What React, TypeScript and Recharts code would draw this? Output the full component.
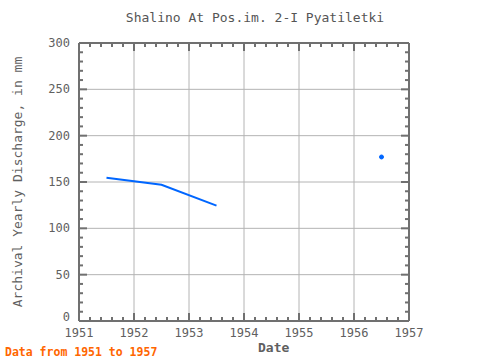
import { ComposedChart, Line, XAxis, YAxis, ReferenceLine } from "recharts";

const years = [1951.5, 1952.5, 1953.5];
const discharge = [154.5, 147, 124.5];
const loneYears = [1956.5];
const loneDischarge = [177];

const majorYears = [1951, 1952, 1953, 1954, 1955, 1956, 1957];
const majorValues = [0, 50, 100, 150, 200, 250, 300];

const minorYears: number[] = [];
for (let k = 0; k <= 30; k++) minorYears.push(Math.round((1951 + k * 0.2) * 10) / 10);
const minorValues: number[] = [];
for (let v = 0; v <= 300; v += 10) minorValues.push(v);

const lineData = years.map((year, i) => ({ year, value: discharge[i] }));
const loneData = loneYears.map((year, i) => ({ year, value: loneDischarge[i] }));

const FRAME = "#707070";
const GRID = "#b4b4b4";
const TEXT = "#606060";
const BLUE = "#0066ff";
const FONT = "'DejaVu Sans Mono', monospace";

const isMajorYear = (v: number) => majorYears.includes(v);
const isMajorValue = (v: number) => majorValues.includes(v);

const BottomTick = ({ x, y, payload }: any) => {
  const major = isMajorYear(payload.value);
  return (
    <g>
      <line x1={x} x2={x} y1={y} y2={y - (major ? 8 : 4)} stroke={FRAME} strokeWidth={2} />
      {major && (
        <text x={x} y={y + 16} textAnchor="middle" fill={TEXT} fontSize={12} fontFamily={FONT}>
          {payload.value}
        </text>
      )}
    </g>
  );
};

const TopTick = ({ x, y, payload }: any) => {
  const major = isMajorYear(payload.value);
  return <line x1={x} x2={x} y1={y} y2={y + (major ? 8 : 4)} stroke={FRAME} strokeWidth={2} />;
};

const LeftTick = ({ x, y, payload }: any) => {
  const major = isMajorValue(payload.value);
  // the zero label sits a little higher so it clears the year labels
  const dy = payload.value === 0 ? 0 : 4;
  return (
    <g>
      <line x1={x} x2={x + (major ? 8 : 4)} y1={y} y2={y} stroke={FRAME} strokeWidth={2} />
      {major && (
        <text x={x - 9} y={y + dy} textAnchor="end" fill={TEXT} fontSize={12} fontFamily={FONT}>
          {payload.value}
        </text>
      )}
    </g>
  );
};

const RightTick = ({ x, y, payload }: any) => {
  const major = isMajorValue(payload.value);
  return <line x1={x} x2={x - (major ? 8 : 4)} y1={y} y2={y} stroke={FRAME} strokeWidth={2} />;
};

export default function App() {
  return (
    <div style={{ position: "absolute", left: 0, top: 0, width: 480, height: 360, background: "#fff" }}>
      <div
        style={{
          position: "absolute",
          left: 0,
          width: 510,
          top: 10,
          textAlign: "center",
          fontFamily: FONT,
          fontSize: 13,
          color: "#555",
        }}
      >
        Shalino At Pos.im. 2-I Pyatiletki
      </div>
      <div
        style={{
          position: "absolute",
          left: 17,
          top: 182,
          transform: "translate(-50%, -50%) rotate(-90deg)",
          whiteSpace: "nowrap",
          fontFamily: FONT,
          fontSize: 13,
          color: TEXT,
        }}
      >
        Archival Yearly Discharge, in mm
      </div>
      <div
        style={{
          position: "absolute",
          left: 258,
          top: 340,
          fontFamily: FONT,
          fontSize: 13,
          fontWeight: "bold",
          color: TEXT,
        }}
      >
        Date
      </div>
      <div
        style={{
          position: "absolute",
          left: 5,
          top: 345,
          fontFamily: FONT,
          fontSize: 11.5,
          fontWeight: "bold",
          color: "#ff6600",
        }}
      >
        Data from 1951 to 1957
      </div>
      <ComposedChart
        width={480}
        height={360}
        margin={{ top: 42, right: 70, bottom: 38, left: 78 }}
        style={{ position: "absolute", left: 0, top: 0 }}
      >
        <XAxis
          dataKey="year"
          type="number"
          domain={[1951, 1957]}
          ticks={minorYears}
          interval={0}
          height={1}
          tickSize={0}
          tickMargin={0}
          tickLine={false}
          axisLine={{ stroke: FRAME, strokeWidth: 2 }}
          tick={<BottomTick />}
          allowDataOverflow
        />
        <XAxis
          xAxisId="top"
          orientation="top"
          dataKey="year"
          type="number"
          domain={[1951, 1957]}
          ticks={minorYears}
          interval={0}
          height={1}
          tickSize={0}
          tickMargin={0}
          tickLine={false}
          axisLine={{ stroke: FRAME, strokeWidth: 2 }}
          tick={<TopTick />}
          allowDataOverflow
        />
        <YAxis
          type="number"
          domain={[0, 300]}
          ticks={minorValues}
          interval={0}
          width={1}
          tickSize={0}
          tickMargin={0}
          tickLine={false}
          axisLine={{ stroke: FRAME, strokeWidth: 2 }}
          tick={<LeftTick />}
          allowDataOverflow
        />
        <YAxis
          yAxisId="right"
          orientation="right"
          type="number"
          domain={[0, 300]}
          ticks={minorValues}
          interval={0}
          width={1}
          tickSize={0}
          tickMargin={0}
          tickLine={false}
          axisLine={{ stroke: FRAME, strokeWidth: 2 }}
          tick={<RightTick />}
          allowDataOverflow
        />
        {majorYears.map((y) => (
          <ReferenceLine key={"gx" + y} x={y} stroke={GRID} strokeWidth={1} />
        ))}
        {majorValues.map((v) => (
          <ReferenceLine key={"gy" + v} y={v} stroke={GRID} strokeWidth={1} />
        ))}
        <Line
          data={lineData}
          dataKey="value"
          type="linear"
          stroke={BLUE}
          strokeWidth={2}
          dot={false}
          isAnimationActive={false}
        />
        <Line
          data={loneData}
          dataKey="value"
          stroke={BLUE}
          strokeWidth={2}
          dot={{ r: 2, fill: BLUE, stroke: BLUE, strokeWidth: 1 }}
          isAnimationActive={false}
        />
      </ComposedChart>
    </div>
  );
}
